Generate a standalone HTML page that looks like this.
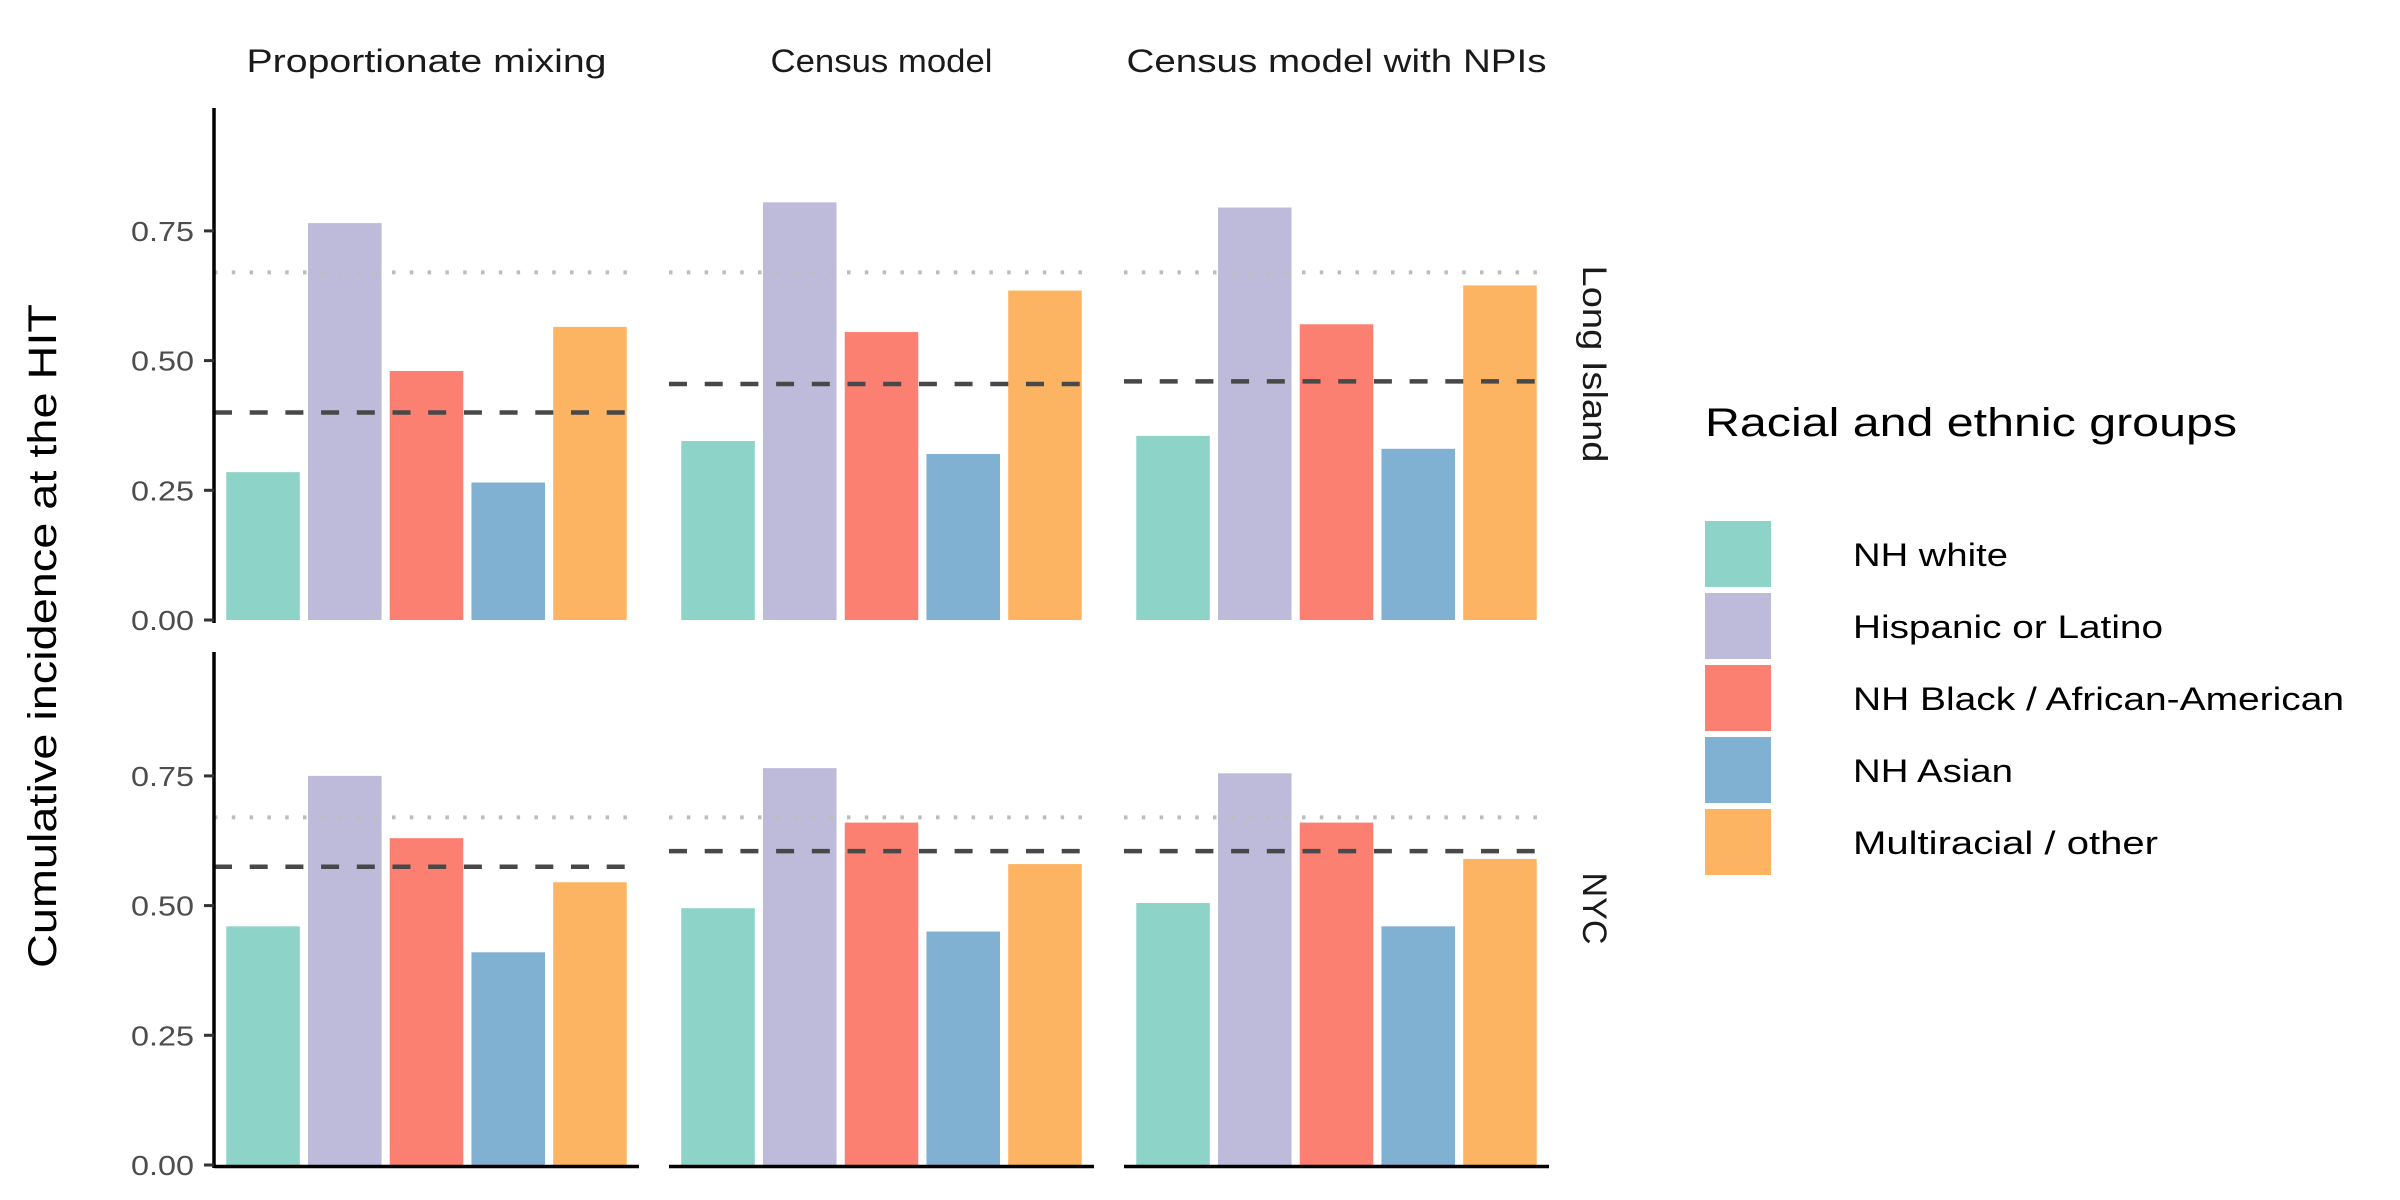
<!DOCTYPE html>
<html><head><meta charset="utf-8"><style>
html,body{margin:0;padding:0;background:#fff;width:2400px;height:1200px;overflow:hidden}
svg text{font-family:"Liberation Sans",sans-serif}
</style></head><body>
<svg id="chart" width="2400" height="1200" viewBox="0 0 2400 1200" xmlns="http://www.w3.org/2000/svg"></svg>
<script>
const groups = ["NH white","Hispanic or Latino","NH Black / African-American","NH Asian","Multiracial / other"];
const colors = ["#8dd3c7","#bebada","#fb8072","#80b1d3","#fdb462"];
const models = ["Proportionate mixing","Census model","Census model with NPIs"];
const regions = ["Long Island","NYC"];
const liValues = [
  [0.285,0.765,0.48,0.265,0.565],
  [0.345,0.805,0.555,0.32,0.635],
  [0.355,0.795,0.57,0.33,0.645]
];
const nycValues = [
  [0.46,0.75,0.63,0.41,0.545],
  [0.495,0.765,0.66,0.45,0.58],
  [0.505,0.755,0.66,0.46,0.59]
];
const liOverall = [0.40,0.455,0.46];
const nycOverall = [0.575,0.605,0.605];
const hitThreshold = 0.67;
const yTicks = [0,0.25,0.5,0.75];
const yTickLabels = ["0.00","0.25","0.50","0.75"];

const svg = document.getElementById('chart');
const NS = 'http://www.w3.org/2000/svg';
function mk(tag, attrs, parent){
  const e = document.createElementNS(NS, tag);
  for (const k in attrs) e.setAttribute(k, attrs[k]);
  (parent||svg).appendChild(e);
  return e;
}
const panelLeft = [214,669,1124];
const panelW = 425;
const rowZero = [620,1165];
const rowTop = [108,652];
const pxPerUnit = 518.8;
function yScale(row, v){ return rowZero[row] - v*pxPerUnit; }
function xScale(col, pos){ const u = panelW/5.2; return panelLeft[col] + (pos - 0.4)*u; }
const unit = panelW/5.2;

const allValues = [liValues, nycValues];
const overall = [liOverall, nycOverall];

for (let r=0;r<2;r++){
  for (let c=0;c<3;c++){
    const g = mk('g',{});
    
    
    const vals = allValues[r][c];
    vals.forEach((v,i)=>{
      const cx = xScale(c, i+1);
      const y = yScale(r, v);
      const b = mk('rect',{x:cx-0.45*unit, y:y, width:0.9*unit, height:rowZero[r]-y, fill:colors[i]}, g);
      
      
    });
    const yd = yScale(r, hitThreshold);
    const dl = mk('line',{x1:panelLeft[c], x2:panelLeft[c]+panelW, y1:yd, y2:yd, stroke:'#bdbdbd','stroke-width':4,'stroke-dasharray':'3.5 14.3'}, g);
    
    
    const yo = yScale(r, overall[r][c]);
    const ol = mk('line',{x1:panelLeft[c], x2:panelLeft[c]+panelW, y1:yo, y2:yo, stroke:'#484848','stroke-width':4.5,'stroke-dasharray':'18 17.7'}, g);
    
    
    if (r===1){
      const ax = mk('line',{x1:panelLeft[c], x2:panelLeft[c]+panelW, y1:rowZero[r]+1.5, y2:rowZero[r]+1.5, stroke:'#000','stroke-width':3.5}, g);
      
      
    }
  }
  const ya = mk('line',{x1:214, x2:214, y1:rowTop[r], y2:rowZero[r]+3, stroke:'#000','stroke-width':3.5});
  
  
  yTicks.forEach((t,i)=>{
    const y = yScale(r,t);
    const tk = mk('line',{x1:204, x2:214, y1:y, y2:y, stroke:'#333','stroke-width':3});
    
    
    const tl = mk('text',{x:194, y:y+10, 'text-anchor':'end','font-size':28, fill:'#4d4d4d', textLength:63, lengthAdjust:'spacingAndGlyphs'});
    tl.textContent = yTickLabels[i];
    
    
  });
  const stripLen = [197,72];
  const st = mk('text',{x:0,y:0,'font-size':34,fill:'#1a1a1a','text-anchor':'middle',textLength:stripLen[r],lengthAdjust:'spacingAndGlyphs',transform:`translate(1583,${(rowTop[r]+rowZero[r])/2}) rotate(90)`});
  st.textContent = regions[r];
  
  
}
const stripW = [360,222,420];
models.forEach((m,c)=>{
  const t = mk('text',{x:panelLeft[c]+panelW/2, y:72, 'text-anchor':'middle','font-size':32, fill:'#1a1a1a', textLength:stripW[c], lengthAdjust:'spacingAndGlyphs'});
  t.textContent = m;
  
  
});
const yt = mk('text',{x:0,y:0,'font-size':40,fill:'#000','text-anchor':'middle',textLength:664,lengthAdjust:'spacingAndGlyphs',transform:'translate(56,636) rotate(-90)'});
yt.textContent = 'Cumulative incidence at the HIT';



const lt = mk('text',{x:1705, y:436, 'font-size':40, fill:'#000', textLength:532, lengthAdjust:'spacingAndGlyphs'});
lt.textContent = 'Racial and ethnic groups';


const labelW = [155,310,491,160,305];
groups.forEach((gname,i)=>{
  const y0 = 521 + i*72;
  const k = mk('rect',{x:1705, y:y0, width:66, height:66, fill:colors[i]});
  
  
  const t = mk('text',{x:1853, y:y0+45, 'font-size':32, fill:'#000', textLength:labelW[i], lengthAdjust:'spacingAndGlyphs'});
  t.textContent = gname;
  
  
});
</script>
</body></html>
